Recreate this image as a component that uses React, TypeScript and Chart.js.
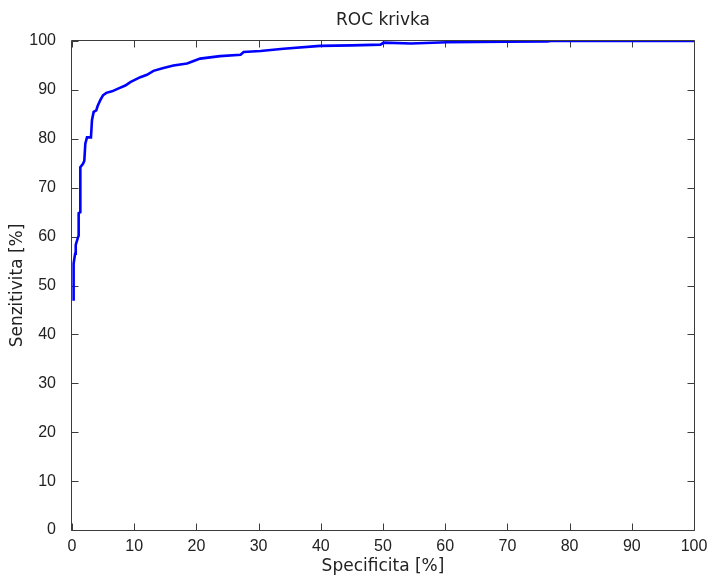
import { useEffect, useRef } from "react";
import { Chart, registerables } from "chart.js";

Chart.register(...registerables);

const chartTitle = "ROC krivka";
const xAxisLabel = "Specificita [%]";
const yAxisLabel = "Senzitivita [%]";

const xTickValues = [0, 10, 20, 30, 40, 50, 60, 70, 80, 90, 100];
const yTickValues = [0, 10, 20, 30, 40, 50, 60, 70, 80, 90, 100];

// x: "Specificita [%]" (as plotted), y: "Senzitivita [%]"
const specificita = [
  0.26, 0.26, 0.5, 0.6, 0.9, 1.07, 1.07, 1.34, 1.34, 1.77, 1.98, 2.14, 2.41, 3.05, 3.21,
  3.48, 3.9, 4.12, 4.55, 4.98, 5.52, 6.43, 7.5, 8.57, 9.38, 10.98, 12.05, 13.1, 14.7,
  16.3, 18.5, 19.55, 20.6, 23.8, 27.1, 27.6, 30.3, 34.0, 39.9, 45.0, 49.6, 50.1, 54.5,
  60.3, 70.0, 76.4, 77.0, 100,
];
const senzitivita = [
  46.9, 54.5, 56.5, 58.3, 59.6, 60.2, 64.8, 65.0, 74.2, 74.9, 75.5, 79.0, 80.3, 80.3, 83.8,
  85.5, 85.8, 86.7, 87.9, 88.9, 89.4, 89.7, 90.3, 90.9, 91.6, 92.6, 93.1, 93.9, 94.5,
  95.0, 95.4, 95.9, 96.4, 96.9, 97.2, 97.75, 97.95, 98.4, 99.0, 99.1, 99.26, 99.67, 99.5,
  99.73, 99.85, 99.9, 100, 100,
];

const textColor = "#222222";
const axisColor = "#3c3c3c";
const tickFont = { family: "Liberation Sans", size: 16 };
const labelFont = { family: "DejaVu Sans", size: 17, weight: "normal" as const };

const matlabBox = {
  id: "matlabBox",
  beforeDatasetsDraw(chart: any) {
    const { ctx, chartArea } = chart;
    const { left, right, top, bottom } = chartArea;
    const xs = chart.scales.x;
    const ys = chart.scales.y;
    const L = left - 0.5;
    const R = right + 0.5;
    const T = top - 0.5;
    const B = bottom + 0.5;
    const tl = 7;
    ctx.save();
    ctx.strokeStyle = axisColor;
    ctx.lineWidth = 1;
    ctx.beginPath();
    ctx.rect(L, T, R - L, B - T);
    xTickValues.forEach((v) => {
      const px = Math.round(xs.getPixelForValue(v)) + 0.5;
      ctx.moveTo(px, B);
      ctx.lineTo(px, B - tl);
      ctx.moveTo(px, T);
      ctx.lineTo(px, T + tl);
    });
    yTickValues.forEach((v) => {
      const py = Math.round(ys.getPixelForValue(v)) + 0.5;
      ctx.moveTo(L, py);
      ctx.lineTo(L + tl, py);
      ctx.moveTo(R, py);
      ctx.lineTo(R - tl, py);
    });
    ctx.stroke();
    ctx.restore();
  },
};

export default function App() {
  const canvasRef = useRef<HTMLCanvasElement | null>(null);

  useEffect(() => {
    if (!canvasRef.current) return;
    const points = specificita.map((x, i) => ({ x, y: senzitivita[i] }));
    const chart = new Chart(canvasRef.current, {
      type: "line",
      data: {
        datasets: [
          {
            label: "ROC",
            data: points,
            borderColor: "#0000ff",
            backgroundColor: "#0000ff",
            borderWidth: 2.6,
            pointRadius: 0,
            tension: 0,
            fill: false,
          },
        ],
      },
      options: {
        responsive: false,
        animation: false,
        layout: { padding: { left: 0, right: 16, top: 0, bottom: 0 } },
        plugins: {
          legend: { display: false },
          tooltip: { enabled: false },
          title: {
            display: true,
            text: chartTitle,
            fullSize: false,
            color: textColor,
            font: labelFont,
            padding: { top: 10.5, bottom: 10.1 },
          },
        },
        scales: {
          x: {
            type: "linear",
            position: "bottom",
            min: 0,
            max: 100,
            grid: { display: false },
            border: { display: false },
            ticks: { color: textColor, font: tickFont, padding: -1, maxRotation: 0, autoSkip: false },
            title: { display: true, text: xAxisLabel, color: textColor, font: labelFont, padding: { top: 0, bottom: 0 } },
            afterBuildTicks: (s: any) => {
              s.ticks = xTickValues.map((v) => ({ value: v }));
            },
            afterFit: (s: any) => {
              s.height = 47;
            },
          },
          y: {
            type: "linear",
            position: "left",
            min: 0,
            max: 100,
            grid: { display: false },
            border: { display: false },
            ticks: { color: textColor, font: tickFont, padding: 8, autoSkip: false },
            title: { display: true, text: yAxisLabel, color: textColor, font: labelFont, padding: { top: 7, bottom: 0 } },
            afterBuildTicks: (s: any) => {
              s.ticks = yTickValues.map((v) => ({ value: v }));
            },
            afterFit: (s: any) => {
              s.width = 72;
            },
          },
        },
      },
      plugins: [matlabBox],
    });
    return () => chart.destroy();
  }, []);

  return (
    <div style={{ position: "absolute", left: 0, top: 0, width: 710, height: 577, background: "#ffffff" }}>
      <canvas ref={canvasRef} width={710} height={577} style={{ display: "block" }} />
    </div>
  );
}
